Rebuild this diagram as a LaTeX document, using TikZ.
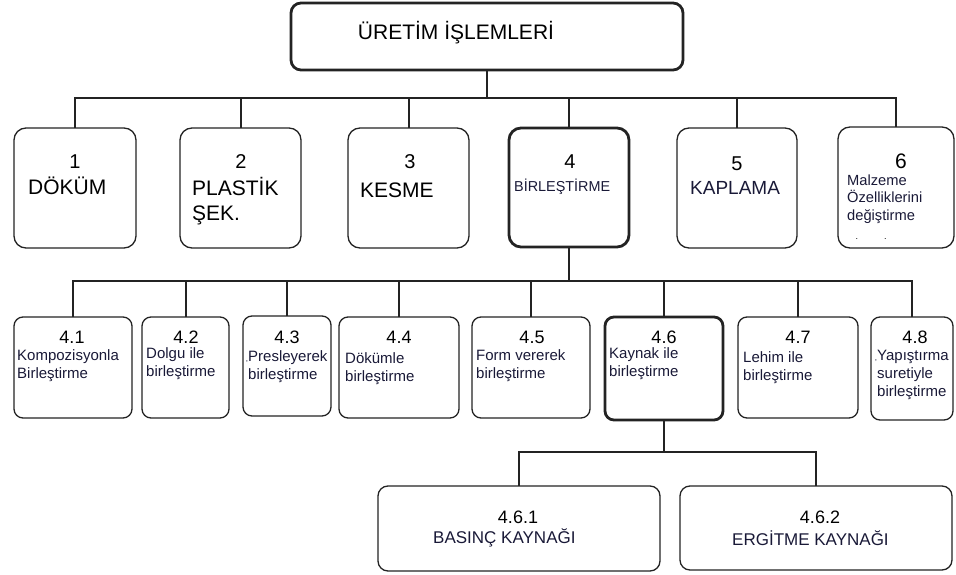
\documentclass[tikz,border=0pt]{standalone}
\usepackage{fontspec}
\setmainfont{Liberation Sans}
\definecolor{ink}{RGB}{25,25,55}
\definecolor{edge}{RGB}{35,35,35}
\begin{document}
\begin{tikzpicture}[x=1pt,y=-1pt,
    box/.style={draw=edge, line width=1.3pt, rounded corners=12pt, inner sep=0pt, outer sep=0pt},
    bigbox/.style={box, line width=2.8pt},
    smallbox/.style={box, rounded corners=9pt},
    conn/.style={draw=edge, line width=2pt},
    num/.style={anchor=base, inner sep=0pt, font=\fontsize{20}{20}\selectfont},
    subnum/.style={num, font=\fontsize{18}{18}\selectfont},
    big/.style={anchor=base west, inner sep=0pt, align=left, font=\fontsize{21}{25}\selectfont},
    lbl/.style={anchor=base west, inner sep=0pt, align=left, text=ink, font=\fontsize{15}{18}\selectfont}]
    \useasboundingbox (0,0) rectangle (956,575);
    % top
    \node[bigbox, rounded corners=10pt, minimum width=392pt, minimum height=67pt] (top) at (487,36.5) {};
    \node[anchor=base, inner sep=0pt, font=\fontsize{21}{21}\selectfont] (ttl) at (456,40) {ÜRETİM İŞLEMLERİ};
    % main groups
    \node[box, minimum width=122pt, minimum height=120pt] (b1) at (75,188) {};
    \node[box, minimum width=121pt, minimum height=120pt] (b2) at (240.5,188) {};
    \node[box, minimum width=121pt, minimum height=120pt] (b3) at (408.5,188) {};
    \node[bigbox, minimum width=120pt, minimum height=119pt] (b4) at (569,187.5) {};
    \node[box, minimum width=120pt, minimum height=120pt] (b5) at (737,188) {};
    \node[box, minimum width=116pt, minimum height=121pt] (b6) at (896,187.5) {};
    \node[num] (n1) at (75,168) {1};
    \node[num] (n2) at (241,168) {2};
    \node[num] (n3) at (410,168) {3};
    \node[num] (n4) at (570,168) {4};
    \node[num] (n5) at (737,171) {5};
    \node[num, font=\fontsize{21}{21}\selectfont] (n6) at (901,168) {6};
    % (base of a node with several lines = base of its last line)
    \node[big] (t1) at (28,194) {DÖKÜM};
    \node[big] (t2) at (192,220) {PLASTİK\\ŞEK.};
    \node[big] (t3) at (360,197) {KESME};
    \node[lbl, font=\fontsize{14.4}{17}\selectfont] (t4) at (514,191) {BİRLEŞTİRME};
    \node[big, text=ink, font=\fontsize{19}{19}\selectfont] (t5) at (690,194) {KAPLAMA};
    \node[lbl, font=\fontsize{14.7}{17.5}\selectfont] (t6) at (847,220) {Malzeme\\Özelliklerini\\değiştirme};
    \node[inner sep=0pt, font=\fontsize{9}{9}\selectfont] (dots6) at (871,239) {.\hspace{26pt}.};
    % joining methods
    \node[smallbox, minimum width=118pt, minimum height=101pt] (c1) at (73,367.5) {};
    \node[smallbox, minimum width=87pt, minimum height=101pt] (c2) at (185.5,367.5) {};
    \node[smallbox, minimum width=88pt, minimum height=100pt] (c3) at (287,366) {};
    \node[smallbox, minimum width=120pt, minimum height=101pt] (c4) at (399,367.5) {};
    \node[smallbox, minimum width=118pt, minimum height=101pt] (c5) at (531,367.5) {};
    \node[bigbox, rounded corners=9pt, minimum width=118pt, minimum height=103pt] (c6) at (664,368.5) {};
    \node[smallbox, minimum width=120pt, minimum height=101pt] (c7) at (798,367.5) {};
    \node[smallbox, minimum width=82pt, minimum height=103pt] (c8) at (912,368.5) {};
    \node[subnum] (m1) at (72,343) {4.1};
    \node[subnum] (m2) at (186,343) {4.2};
    \node[subnum] (m3) at (287,343) {4.3};
    \node[subnum] (m4) at (399,343) {4.4};
    \node[subnum] (m5) at (532,343) {4.5};
    \node[subnum] (m6) at (664,343) {4.6};
    \node[subnum] (m7) at (798,343) {4.7};
    \node[subnum] (m8) at (915,343) {4.8};
    \node[lbl] (s1) at (17,378) {Kompozisyonla\\Birleştirme};
    \node[lbl] (s2) at (146,376) {Dolgu ile\\birleştirme};
    \node[lbl] (s3) at (248,379) {\llap{\fontsize{8}{8}\selectfont,}Presleyerek\\birleştirme};
    \node[lbl] (s4) at (345,381) {Dökümle\\birleştirme};
    \node[lbl] (s5) at (476,378) {Form vererek\\birleştirme};
    \node[lbl] (s6) at (609,376) {Kaynak ile\\birleştirme};
    \node[lbl] (s7) at (743,380) {Lehim ile\\birleştirme};
    \node[lbl] (s8) at (877,396) {\llap{\fontsize{8}{8}\selectfont,}Yapıştırma\\suretiyle\\birleştirme};
    % welding
    \node[smallbox, rounded corners=10pt, minimum width=282pt, minimum height=85pt] (d1) at (519,528.5) {};
    \node[smallbox, rounded corners=10pt, minimum width=272pt, minimum height=84pt] (d2) at (816,528) {};
    \node[subnum] (k1) at (518,523) {4.6.1};
    \node[subnum] (k2) at (820,523) {4.6.2};
    \node[lbl, font=\fontsize{17}{17}\selectfont] (e1) at (433,543) {BASINÇ KAYNAĞI};
    \node[lbl, font=\fontsize{17}{17}\selectfont] (e2) at (732,545) {ERGİTME KAYNAĞI};
    % connectors
    \coordinate (j0) at (487,98);
    \coordinate (j1) at (569,281);
    \coordinate (j2) at (664,452);
    \draw[conn] (top.south) -- (j0);
    \foreach \b in {b1,b2,b3,b4,b5,b6}
        \draw[conn] (j0) -| (\b.north);
    \draw[conn] (b4.south) -- (j1);
    \foreach \c in {c1,c2,c3,c4,c5,c6,c7,c8}
        \draw[conn] (j1) -| (\c.north);
    \draw[conn] (c6.south) -- (j2);
    \draw[conn] (j2) -| (d1.north);
    \draw[conn] (j2) -| (d2.north);
\end{tikzpicture}
\end{document}
